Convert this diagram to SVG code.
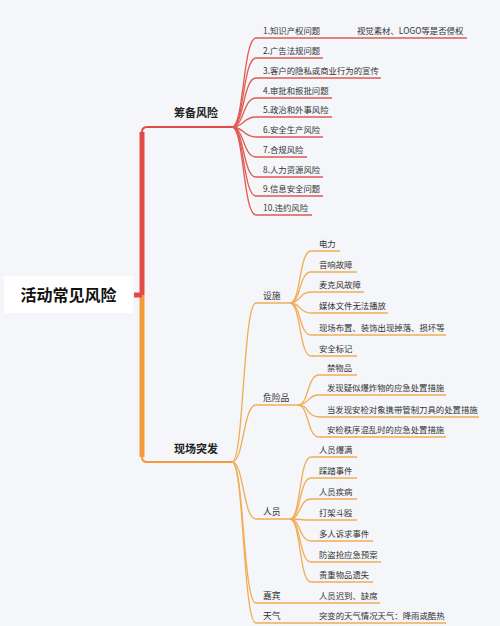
<svg xmlns="http://www.w3.org/2000/svg" width="500" height="626" viewBox="0 0 500 626">
<style>
text{font-family:"Noto Sans CJK SC","Noto Sans",sans-serif;fill:#333;}
.leaf{font-size:8.4px;}
.sub{font-size:8.8px;}
.br{font-size:11px;font-weight:bold;fill:#222;}
.root{font-size:16px;font-weight:bold;fill:#111;}
.r{fill:none;stroke:#e05a55;stroke-width:1.3;}
.o{fill:none;stroke:#f0ad55;stroke-width:1.3;}
</style>
<rect width="500" height="626" fill="#f5f6f9"/>
<g id="connectors">
  <path d="M142,295 L142,132 Q142,127 147,127 L232,127" fill="none" stroke="#e24a47" stroke-width="2"/>
  <path d="M142,295 L142,132" fill="none" stroke="#e24a47" stroke-width="5"/>
  <path d="M142,295 L142,457 Q142,462 147,462 L232,462" fill="none" stroke="#f39a3a" stroke-width="2"/>
  <path d="M142,295 L142,457" fill="none" stroke="#f39a3a" stroke-width="5"/>
  <rect x="134" y="292.5" width="8" height="5" fill="#e24a47"/>
  <g class="r">
    <path d="M232,127 C244,127 243,38 256,38 L467,38"/>
    <path d="M232,127 C244,127 243,58 256,58 L323,58"/>
    <path d="M232,127 C244,127 243,78 256,78 L381,78"/>
    <path d="M232,127 C244,127 243,98 256,98 L332,98"/>
    <path d="M232,127 C244,127 243,117 256,117 L332,117"/>
    <path d="M232,127 C244,127 243,137 256,137 L323,137"/>
    <path d="M232,127 C244,127 243,157 256,157 L307,157"/>
    <path d="M232,127 C244,127 243,177 256,177 L323,177"/>
    <path d="M232,127 C244,127 243,196 256,196 L323,196"/>
    <path d="M232,127 C244,127 243,215 256,215 L312,215"/>
  </g>
  <g class="o">
    <path d="M232,462 C244,462 243,303 256,303 L290,303"/>
    <path d="M232,462 C244,462 243,405 256,405 L298,405"/>
    <path d="M232,462 C244,462 243,519 256,519 L290,519"/>
    <path d="M232,462 C244,462 243,603 256,603 L380,603"/>
    <path d="M232,462 C244,462 243,623 256,623 L446,623"/>
    <path d="M290,303 C301,303 299,251 311,251 L340,251"/>
    <path d="M290,303 C301,303 299,272 311,272 L357,272"/>
    <path d="M290,303 C301,303 299,292 311,292 L364,292"/>
    <path d="M290,303 C301,303 299,313 311,313 L388,313"/>
    <path d="M290,303 C301,303 299,335 311,335 L446,335"/>
    <path d="M290,303 C301,303 299,356 311,356 L357,356"/>
    <path d="M298,405 C309,405 307,375 319,375 L357,375"/>
    <path d="M298,405 C309,405 307,395 319,395 L446,395"/>
    <path d="M298,405 C309,405 307,417 319,417 L479,417"/>
    <path d="M298,405 C309,405 307,437 319,437 L446,437"/>
    <path d="M290,519 C301,519 299,457 311,457 L357,457"/>
    <path d="M290,519 C301,519 299,478 311,478 L357,478"/>
    <path d="M290,519 C301,519 299,499 311,499 L357,499"/>
    <path d="M290,519 C301,519 299,520 311,520 L357,520"/>
    <path d="M290,519 C301,519 299,541 311,541 L373,541"/>
    <path d="M290,519 C301,519 299,562 311,562 L381,562"/>
    <path d="M290,519 C301,519 299,582 311,582 L373,582"/>
  </g>
</g>
<g id="root"><rect x="4" y="276" width="129" height="37" fill="#ffffff"/><text class="root" x="68.5" y="301" text-anchor="middle">活动常见风险</text></g>
<g id="b1"><text class="br" x="196" y="117" text-anchor="middle">筹备风险</text></g>
<g id="b2"><text class="br" x="196" y="453" text-anchor="middle">现场突发</text></g>
<g id="p1"><text class="leaf" x="263" y="34">1.知识产权问题</text></g>
<g id="p1a"><text class="leaf" x="357" y="34">视觉素材、LOGO等是否侵权</text></g>
<g id="p2"><text class="leaf" x="263" y="54">2.广告法规问题</text></g>
<g id="p3"><text class="leaf" x="263" y="74">3.客户的隐私或商业行为的宣传</text></g>
<g id="p4"><text class="leaf" x="263" y="94">4.审批和报批问题</text></g>
<g id="p5"><text class="leaf" x="263" y="113">5.政治和外事风险</text></g>
<g id="p6"><text class="leaf" x="263" y="133">6.安全生产风险</text></g>
<g id="p7"><text class="leaf" x="263" y="153">7.合规风险</text></g>
<g id="p8"><text class="leaf" x="263" y="173">8.人力资源风险</text></g>
<g id="p9"><text class="leaf" x="263" y="192">9.信息安全问题</text></g>
<g id="p10"><text class="leaf" x="263" y="211">10.违约风险</text></g>
<g id="s1"><text class="sub" x="263" y="299">设施</text></g>
<g id="s1a"><text class="leaf" x="319" y="247">电力</text></g>
<g id="s1b"><text class="leaf" x="319" y="268">音响故障</text></g>
<g id="s1c"><text class="leaf" x="319" y="288">麦克风故障</text></g>
<g id="s1d"><text class="leaf" x="319" y="309">媒体文件无法播放</text></g>
<g id="s1e"><text class="leaf" x="319" y="331">现场布置、装饰出现掉落、损坏等</text></g>
<g id="s1f"><text class="leaf" x="319" y="352">安全标记</text></g>
<g id="s2"><text class="sub" x="263" y="401">危险品</text></g>
<g id="s2a"><text class="leaf" x="327" y="371">禁物品</text></g>
<g id="s2b"><text class="leaf" x="327" y="391">发现疑似爆炸物的应急处置措施</text></g>
<g id="s2c"><text class="leaf" x="327" y="413">当发现安检对象携带管制刀具的处置措施</text></g>
<g id="s2d"><text class="leaf" x="327" y="433">安检秩序混乱时的应急处置措施</text></g>
<g id="s3"><text class="sub" x="263" y="515">人员</text></g>
<g id="s3a"><text class="leaf" x="319" y="453">人员爆满</text></g>
<g id="s3b"><text class="leaf" x="319" y="474">踩踏事件</text></g>
<g id="s3c"><text class="leaf" x="319" y="495">人员疾病</text></g>
<g id="s3d"><text class="leaf" x="319" y="516">打架斗殴</text></g>
<g id="s3e"><text class="leaf" x="319" y="537">多人诉求事件</text></g>
<g id="s3f"><text class="leaf" x="319" y="558">防盗抢应急预案</text></g>
<g id="s3g"><text class="leaf" x="319" y="578">贵重物品遗失</text></g>
<g id="s4"><text class="sub" x="263" y="599">嘉宾</text></g>
<g id="s4a"><text class="leaf" x="319" y="599">人员迟到、缺席</text></g>
<g id="s5"><text class="sub" x="263" y="619">天气</text></g>
<g id="s5a"><text class="leaf" x="319" y="619">突变的天气情况天气：降雨或酷热</text></g>
</svg>
